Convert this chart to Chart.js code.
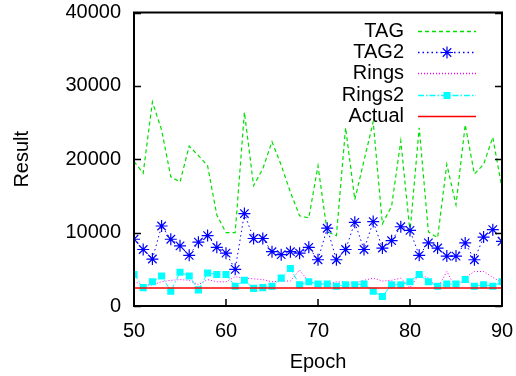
<!DOCTYPE html>
<html lang="en">
<head>
<meta charset="UTF-8">
<title>Result by Epoch</title>
<script src="https://cdn.jsdelivr.net/npm/chart.js"></script>
<style>
  body { margin: 0; background: #fff; }
</style>
</head>
<body>
<canvas id="myChart" width="516" height="376"></canvas>
<script>
// data
const epochs = [50,51,52,53,54,55,56,57,58,59,60,61,62,63,64,65,66,67,68,69,70,
                71,72,73,74,75,76,77,78,79,80,81,82,83,84,85,86,87,88,89,90];

const tag = [19700,18100,27800,24000,17600,16900,21800,20500,19100,12400,10000,
             10000,26400,16400,18700,22400,19200,15500,12300,12000,19100,
             10100,9600,24300,14500,19800,25100,11200,13600,22500,10100,
             24300,10100,9300,19300,13800,24700,18000,19300,23000,16000];

const tag2 = [9100,7700,6400,10900,9100,8200,6900,8700,9600,8000,7200,
              5000,12600,9200,9200,7400,7000,7400,7200,8000,6300,
              10600,6300,7700,11400,7700,11500,7900,8900,10800,10300,
              6900,8600,7900,6800,6800,8600,6300,9400,10400,8800];

const rings = [3400,2800,2900,3300,3500,3600,3500,2900,3600,3300,3300,
               4000,3800,3700,3600,3300,3400,3400,4900,3300,3100,
               3000,3300,3200,3100,3500,3800,3400,3500,3800,2500,
               4300,3800,2400,4700,2400,3900,4700,4700,3900,3200];

const rings2 = [4300,2500,3300,4100,2000,4600,4100,2200,4500,4300,4300,
                2700,3500,2400,2500,2700,3800,5100,2900,3300,3000,
                3000,2700,2900,2900,3000,2000,1300,2900,2900,3300,
                4300,3300,2700,3000,3000,3600,2700,2900,2700,3300];

const actual = epochs.map(() => 2450);

const yTicks = [0, 10000, 20000, 30000, 40000];
const xTicks = [50, 60, 70, 80, 90];

function pts(vals) {
  return epochs.map((e, i) => ({ x: e, y: vals[i] }));
}

const FONT = 'Liberation Sans, Arial, sans-serif';

// gnuplot style frame with ticks pointing inwards
const framePlugin = {
  id: 'frame',
  afterDatasetsDraw(chart) {
    const { ctx, chartArea: a, scales } = chart;
    ctx.save();
    ctx.strokeStyle = '#000';
    ctx.lineWidth = 1.5;
    ctx.beginPath();
    yTicks.forEach(v => {
      const y = Math.round(scales.y.getPixelForValue(v)) + 0.5;
      ctx.moveTo(a.left, y); ctx.lineTo(a.left + 7, y);
      ctx.moveTo(a.right, y); ctx.lineTo(a.right - 7, y);
    });
    xTicks.forEach(v => {
      const x = Math.round(scales.x.getPixelForValue(v));
      ctx.moveTo(x, a.bottom); ctx.lineTo(x, a.bottom - 7);
    });
    ctx.stroke();
    ctx.lineWidth = 2;
    ctx.strokeRect(a.left, a.top, a.right - a.left, a.bottom - a.top);
    ctx.restore();
  }
};

// legend in gnuplot layout: text right aligned, sample on the right
const keyPlugin = {
  id: 'key',
  afterDraw(chart) {
    const ctx = chart.ctx;
    const textRight = 404, x0 = 418, x1 = 476;
    ctx.save();
    ctx.font = '20px ' + FONT;
    ctx.textAlign = 'right';
    ctx.textBaseline = 'middle';
    chart.data.datasets.forEach((ds, i) => {
      const y = Math.round(31 + i * 21.2);
      ctx.fillStyle = '#000';
      ctx.fillText(ds.label, textRight, y);
      ctx.strokeStyle = ds.borderColor;
      ctx.lineWidth = Math.max(1.5, ds.borderWidth);
      ctx.setLineDash(ds.borderDash || []);
      ctx.beginPath();
      ctx.moveTo(x0, y + 0.5);
      ctx.lineTo(x1, y + 0.5);
      ctx.stroke();
      ctx.setLineDash([]);
      if (ds.pointRadius > 0) {
        ctx.fillStyle = ds.pointBackgroundColor;
        ctx.strokeStyle = ds.pointBorderColor;
        ctx.lineWidth = ds.pointBorderWidth;
        Chart.helpers.drawPoint(ctx, {
          pointStyle: ds.pointStyle, radius: ds.pointRadius, rotation: 0, borderWidth: ds.pointBorderWidth
        }, (x0 + x1) / 2, y + 0.5);
      }
    });
    ctx.restore();
  }
};

const ctx = document.getElementById('myChart').getContext('2d');

new Chart(ctx, {
  type: 'line',
  data: {
    datasets: [
      { label: 'TAG', data: pts(tag), borderColor: '#00e000', borderWidth: 1.2,
        borderDash: [4, 3], pointRadius: 0, order: 4 },
      { label: 'TAG2', data: pts(tag2), borderColor: '#0000ff', borderWidth: 1,
        borderDash: [1.5, 3], pointStyle: 'star', pointRadius: 6,
        pointBorderColor: '#0000ff', pointBackgroundColor: '#0000ff', pointBorderWidth: 1.2, order: 3 },
      { label: 'Rings', data: pts(rings), borderColor: '#ff00ff', borderWidth: 1,
        borderDash: [1, 2], pointRadius: 0, order: 2 },
      { label: 'Rings2', data: pts(rings2), borderColor: '#00ffff', borderWidth: 1,
        borderDash: [6, 2, 1.5, 2], pointStyle: 'rect', pointRadius: 5,
        pointBorderColor: '#00ffff', pointBackgroundColor: '#00ffff', pointBorderWidth: 0, order: 1 },
      { label: 'Actual', data: pts(actual), borderColor: '#ff0000', borderWidth: 1.5,
        pointRadius: 0, order: 0 }
    ]
  },
  options: {
    responsive: false,
    animation: false,
    events: [],
    layout: { padding: 0 },
    plugins: { legend: { display: false }, tooltip: { enabled: false } },
    elements: { line: { tension: 0 } },
    scales: {
      x: {
        type: 'linear', min: 50, max: 90,
        afterBuildTicks: s => { s.ticks = xTicks.map(v => ({ value: v })); },
        afterFit: s => { s.height = 70; s.paddingLeft = 0; s.paddingRight = 14; },
        grid: { display: false, drawTicks: false },
        border: { display: false },
        ticks: { color: '#000', padding: 13, maxRotation: 0, font: { family: FONT, size: 20 },
                 callback: v => String(v) },
        title: { display: true, text: 'Epoch', color: '#000',
                 padding: { top: 0, bottom: 2 }, font: { family: FONT, size: 20 } }
      },
      y: {
        min: 0, max: 40000,
        afterBuildTicks: s => { s.ticks = yTicks.map(v => ({ value: v })); },
        afterFit: s => { s.width = 134; s.paddingTop = 12.5; s.paddingBottom = 0; },
        grid: { display: false, drawTicks: false },
        border: { display: false },
        ticks: { color: '#000', padding: 13, font: { family: FONT, size: 20 },
                 callback: v => String(v) },
        title: { display: true, text: 'Result', color: '#000',
                 padding: { top: 10, bottom: 0 }, font: { family: FONT, size: 20 } }
      }
    }
  },
  plugins: [framePlugin, keyPlugin]
});
</script>
</body>
</html>
